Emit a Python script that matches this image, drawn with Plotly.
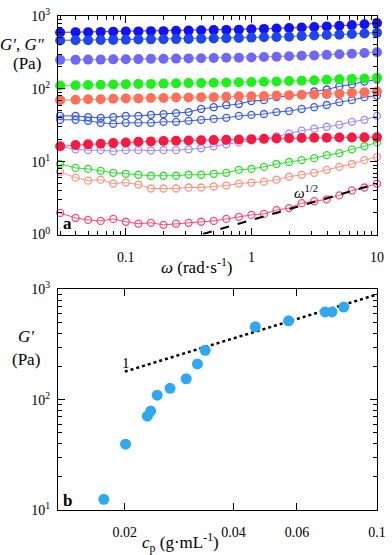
import numpy as np
import plotly.graph_objects as go

# ---------------- data: panel a ----------------
omega = [0.0300, 0.0398, 0.0501, 0.0631, 0.0794, 0.1000, 0.1259, 0.1585, 0.1995, 0.2512,
         0.3162, 0.3981, 0.5012, 0.6310, 0.7943, 1.000, 1.259, 1.585, 1.995, 2.512,
         3.162, 3.981, 5.012, 6.310, 7.943, 10.00]

G1 = [595, 600, 600, 605, 610, 615, 615, 620, 620, 625, 630, 635, 640, 645, 650, 660, 665, 675, 685, 695, 705, 720, 735, 750, 770, 800]
G2 = [462, 465, 465, 468, 470, 472, 475, 478, 480, 482, 485, 488, 490, 495, 500, 505, 510, 515, 520, 530, 540, 548, 555, 565, 575, 590]
G3 = [250, 250, 252, 252, 254, 255, 256, 258, 258, 260, 262, 263, 265, 267, 268, 270, 273, 276, 280, 284, 288, 293, 298, 304, 310, 318]
G4 = [111, 112, 113, 114, 115, 116, 117, 117, 118, 119, 120, 120, 121, 122, 123, 124, 125, 126, 128, 129, 131, 133, 135, 137, 139, 142]
G5 = [70, 71, 72, 72, 73, 74, 74, 75, 75, 76, 76, 77, 77, 78, 79, 79, 80, 81, 82, 83, 84, 85, 86, 88, 90, 92]
G6 = [16.3, 17.0, 17.3, 17.6, 18.0, 18.4, 18.8, 19.0, 19.2, 19.4, 19.6, 19.7, 19.8, 20.0, 20.2, 20.4, 20.6, 20.8, 21.0, 21.2, 21.3, 21.4, 21.5, 21.5, 21.6, 21.7]

H1 = [42.5, 42.5, 41, 40, 41, 42.5, 42.5, 44, 45, 46.5, 48, 53, 56, 60, 62, 68, 70, 77, 81, 84, 92, 98, 108, 115, 126, 134]
H2 = [37.6, 37.6, 36.4, 34.2, 33.2, 34.2, 34.2, 34.2, 35.3, 35.3, 36.4, 37.6, 38.7, 40, 42.5, 43.9, 45.2, 48, 49.6, 53, 56, 60, 65.6, 70, 77, 81]
H3 = [16.3, 14.8, 14.4, 14.4, 13.9, 14.4, 14.4, 14.2, 14.4, 14.4, 14.8, 15.3, 16.3, 17.3, 18.4, 19.6, 20.8, 22.2, 24.3, 26.7, 28.4, 30.2, 32.2, 35.3, 37.6, 42.5]
H4 = [9.31, 8.23, 7.97, 7.49, 7.04, 6.83, 6.62, 6.42, 6.42, 6.42, 6.62, 6.62, 6.83, 7.04, 7.73, 7.97, 8.49, 9.31, 9.91, 10.5, 11.2, 12.3, 13.1, 14.8, 16.3, 18.4]
H5 = [7.27, 6.04, 5.50, 5.67, 5.01, 5.17, 4.86, 4.29, 4.29, 4.29, 4.43, 4.43, 4.57, 4.71, 5.01, 5.17, 5.33, 5.67, 6.22, 6.62, 7.04, 7.73, 8.49, 9.31, 10.5, 11.6]
H6 = [1.98, 1.69, 1.59, 1.54, 1.64, 1.50, 1.41, 1.45, 1.36, 1.41, 1.45, 1.50, 1.54, 1.64, 1.75, 1.86, 1.92, 2.17, 2.31, 2.70, 2.87, 3.05, 3.45, 4.03, 4.43, 5.01]

half_w = [0.3, 10.0]
half_G = [0.87, 5.0]

# ---------------- data: panel b ----------------
cp = [0.0175, 0.0201, 0.0231, 0.0236, 0.0246, 0.0267, 0.0296, 0.0318, 0.0334, 0.0460, 0.0569, 0.0718, 0.0750, 0.0809]
Gp = [12.5, 39.5, 71, 79, 110, 127, 155, 211, 281, 459, 520, 625, 625, 692]

slope_c = [0.02, 0.1]
slope_G = [180, 900]

xa_ticks = [0.1, 1, 10]
xa_text = ["0.1", "1", "10"]
ya_ticks = [1, 10, 100, 1000]
ya_text = ["10<sup>0</sup>", "10<sup>1</sup>", "10<sup>2</sup>", "10<sup>3</sup>"]
xb_ticks = [0.02, 0.04, 0.06, 0.1]
xb_text = ["0.02", "0.04", "0.06", "0.1"]
yb_ticks = [10, 100, 1000]
yb_text = ["10<sup>1</sup>", "10<sup>2</sup>", "10<sup>3</sup>"]

# ---------------- figure ----------------
W, H = 392, 555
ML, MR, MT, MB = 58, 9, 6, 45
PW, PH = W - ML - MR, H - MT - MB


def px_x(px):
    return (px - ML) / PW


def px_y(py):
    return (H - MB - py) / PH


fig = go.Figure()

filled = [
    (G1, "#1212f2", "#5a5af5"),
    (G2, "#1f45f0", "#5a7af5"),
    (G3, "#6e68f5", "#9a96f8"),
    (G4, "#1ef01e", "#6af56a"),
    (G5, "#ff7058", "#ffa090"),
    (G6, "#f81a42", "#fb6a88"),
]
opened = [
    (H1, "#3050f0"),
    (H2, "#3a5cf0"),
    (H3, "#9d8cff"),
    (H4, "#2fe02f"),
    (H5, "#ff9482"),
    (H6, "#ff4a78"),
]

for ys, col in opened:
    fig.add_trace(go.Scatter(x=omega, y=ys, mode="lines+markers", xaxis="x", yaxis="y",
                             line=dict(color=col, width=1),
                             marker=dict(symbol="circle-open", size=7, color=col, line=dict(width=1.3, color=col)),
                             cliponaxis=False, showlegend=False))
for ys, col, lcol in filled:
    fig.add_trace(go.Scatter(x=omega, y=ys, mode="lines+markers", xaxis="x", yaxis="y",
                             line=dict(color=lcol, width=1.2),
                             marker=dict(symbol="circle", size=10, color=col),
                             cliponaxis=False, showlegend=False))

fig.add_trace(go.Scatter(x=half_w, y=half_G, mode="lines", xaxis="x", yaxis="y",
                         line=dict(color="black", width=2, dash="dash"), showlegend=False))

fig.add_trace(go.Scatter(x=slope_c, y=slope_G, mode="lines", xaxis="x2", yaxis="y2",
                         line=dict(color="black", width=2.5, dash="dot"), showlegend=False))
fig.add_trace(go.Scatter(x=cp, y=Gp, mode="markers", xaxis="x2", yaxis="y2",
                         marker=dict(symbol="circle", size=11, color="#30a8f0"),
                         cliponaxis=False, showlegend=False))

FONT = "Liberation Serif, Times New Roman, serif"

common = dict(showline=True, linecolor="black", linewidth=1, mirror="allticks",
              ticks="inside", ticklen=7, tickwidth=1, tickcolor="black",
              showgrid=False, zeroline=False, type="log",
              tickfont=dict(family=FONT, size=14, color="black"))

minor_a_x = [0.03, 0.04, 0.05, 0.06, 0.07, 0.08, 0.09, 0.2, 0.3, 0.4, 0.5, 0.6, 0.7, 0.8, 0.9,
             2, 3, 4, 5, 6, 7, 8, 9]
minor_a_y = [2, 3, 4, 5, 6, 7, 8, 9, 20, 30, 40, 50, 60, 70, 80, 90, 200, 300, 400, 500, 600, 700, 800, 900]
minor_b_y = [20, 30, 40, 50, 60, 70, 80, 90, 200, 300, 400, 500, 600, 700, 800, 900]

minor_style = dict(ticks="inside", ticklen=4, tickwidth=1, tickcolor="black", showgrid=False)

fig.update_layout(
    width=W, height=H,
    margin=dict(l=ML, r=MR, t=MT, b=MB),
    paper_bgcolor="white", plot_bgcolor="white",
    showlegend=False,
    font=dict(family=FONT, size=14, color="black"),
    xaxis=dict(common, domain=[0, 1], anchor="y", range=[-1.54, 1.0],
               tickmode="array", tickvals=xa_ticks, ticktext=xa_text, ticklabelstandoff=10,
               minor=dict(minor_style, tickvals=minor_a_x)),
    yaxis=dict(common, domain=[px_y(229), px_y(6)], anchor="x", range=[0, 3],
               tickmode="array", tickvals=ya_ticks, ticktext=ya_text, ticklabelstandoff=4,
               minor=dict(minor_style, tickvals=minor_a_y)),
    xaxis2=dict(common, domain=[0, 1], anchor="y2", range=[-1.884, -1.0],
                tickmode="array", tickvals=xb_ticks, ticktext=xb_text, ticklabelstandoff=9),
    yaxis2=dict(common, domain=[0, px_y(285)], anchor="x2", range=[1, 3],
                tickmode="array", tickvals=yb_ticks, ticktext=yb_text, ticklabelstandoff=4,
                minor=dict(minor_style, tickvals=minor_b_y)),
)

ann = []


def add_paper(text, px, py, size=17, xanchor="center"):
    ann.append(dict(text=text, x=px_x(px), y=px_y(py), xref="paper", yref="paper",
                    showarrow=False, xanchor=xanchor, yanchor="middle",
                    font=dict(family=FONT, size=size, color="black")))


add_paper("<i>G′</i>, <i>G″</i>", 22, 35)
add_paper("(Pa)", 26, 54)
add_paper("<i>ω</i> (rad·s<sup>-1</sup>)", 200, 261)
add_paper("<i>G′</i>", 25, 333)
add_paper("(Pa)", 25, 356)
add_paper("<i>c</i><sub>p</sub> (g·mL<sup>-1</sup>)", 183, 543)

ann.append(dict(text="<b>a</b>", x=0.031, y=0.05, xref="x domain", yref="y domain",
                showarrow=False, xanchor="center", yanchor="middle",
                font=dict(family=FONT, size=17, color="black")))
ann.append(dict(text="<b>b</b>", x=0.031, y=0.045, xref="x2 domain", yref="y2 domain",
                showarrow=False, xanchor="center", yanchor="middle",
                font=dict(family=FONT, size=17, color="black")))
ann.append(dict(text="<i>ω</i><sup>1/2</sup>", x=np.log10(2.7), y=np.log10(3.9), xref="x", yref="y",
                showarrow=False, xanchor="center", yanchor="middle",
                font=dict(family=FONT, size=15, color="black")))
ann.append(dict(text="1", x=np.log10(0.0201), y=np.log10(215), xref="x2", yref="y2",
                showarrow=False, xanchor="center", yanchor="middle",
                font=dict(family=FONT, size=15, color="black")))

fig.update_layout(annotations=ann)

fig.write_html("out.html", config={"displayModeBar": False},
               post_script="document.body.style.margin='0';document.body.style.overflow='hidden';")
